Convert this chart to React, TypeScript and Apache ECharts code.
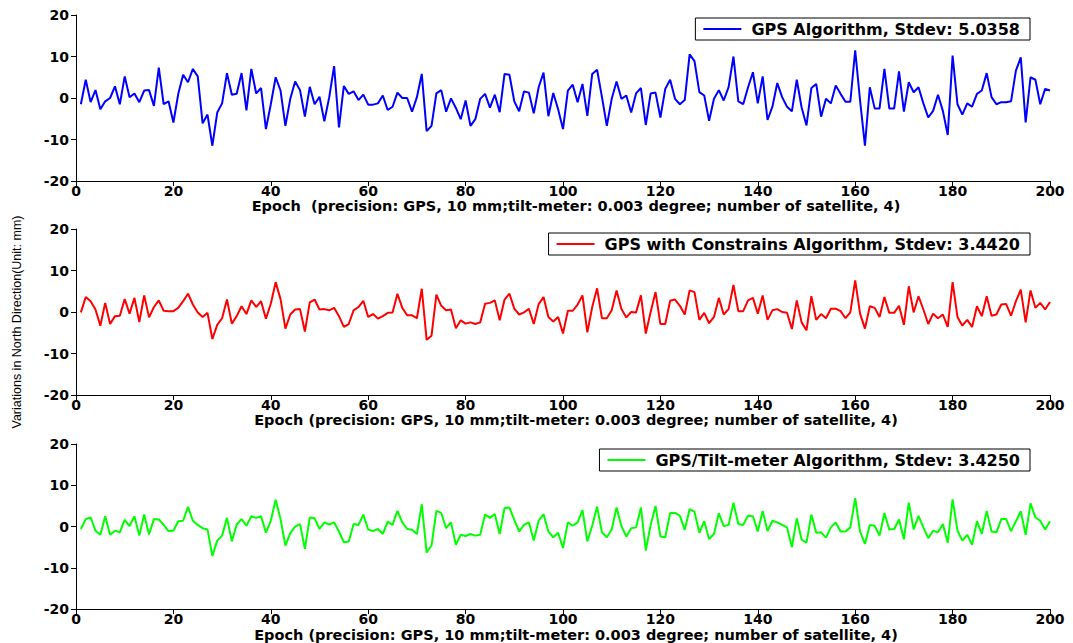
import React, { useEffect, useRef } from "react";
import * as echarts from "echarts";

const gpsValues = [
  -1.5, 4.4, -1, 1.9, -2.7, -0.8, 0, 2.8, -1.5, 5.2,
  0.2, 1.1, -1, 1.8, 1.9, -1.9, 7.3, -1.5, -0.8, -5.9,
  1, 5.6, 3.8, 7, 5.2, -6.1, -4, -11.5, -3.5, -1.3,
  6, 0.8, 1, 6, -3, 7, 1.1, 2.4, -7.5, -1.5,
  5, 1.8, -6.7, -0.2, 4, 1.9, -4.5, 2.7, -1.5, 0.3,
  -5.6, 0.2, 7.7, -7.1, 2.9, 1, 1.6, -0.5, 0.8, -1.6,
  -1.6, -1.3, 0.6, -2.9, -2.1, 1.3, 0, 0, -3.3, 0.2,
  5.8, -8, -6.7, 1.1, 1.9, -3.3, -0.1, -2.4, -5.1, -0.6,
  -6.7, -5.1, -0.2, 1, -2.3, 0.8, -3.4, 5.8, 5.6, -0.8,
  -3.2, 1.6, 1.3, -3.7, 2.6, 6.1, -4.4, 1.2, -2.7, -7.5,
  1.8, 3.2, -1, 3.4, -4.3, 5.8, 6.8, 0.2, -6.7, -0.2,
  4, -0.2, 0.6, -3.5, 1.1, 2.4, -6.5, 1.1, 1.3, -4.7,
  2.2, 4.4, -0.2, -1.5, -0.5, 10.5, 8.9, 1.4, 0.6, -5.5,
  -0.2, 1.9, -0.6, 2.6, 10, -0.8, -1.5, 2.6, 6.2, -1.3,
  5.2, -5.3, -2.1, 3.6, 0.2, -2.1, -3.2, 4.4, -2.3, -6.6,
  2.4, 3.4, -4.5, -0.2, -1.3, 3, 1, -0.9, -0.9, 11.5,
  -0.6, -11.5, 2.6, -2.5, -2.5, 7, -2.5, -2.5, 6.4, -3.3,
  3.8, 1.4, 2.6, -1.3, -4.7, -3.1, 0.8, -3.1, -8.9, 10.2,
  -1.5, -4, -1.3, -2.1, 1, 1.8, 6, 0.2, -1.5, -1,
  -1, -0.8, 6.6, 9.8, -5.9, 5, 4.4, -1.5, 2.2, 1.8,
];

const constrainedValues = [
  -0.1, 3.6, 2.6, 0.6, -3.3, 2.2, -2.9, -1, -0.9, 3.1,
  -0.4, 3.4, -2.4, 4, -1.3, 1.2, 2.8, 0.3, 0.2, 0.2,
  1, 2.6, 4.4, 1.8, -0.1, -1.2, -0.2, -6.5, -3.1, -1.5,
  3, -2.8, -1, 1.4, -0.5, 2.8, 1.2, 2.6, -1.6, 2,
  7.2, 3.1, -4, -0.6, 0.6, 0.7, -4.7, 2.3, 3, 0.6,
  0.7, 0.4, 1, -1, -3.6, -2.9, 0.4, 1.2, 2.7, -1.2,
  -0.5, -1.6, -1, -0.2, -0.1, 4.4, 1, -0.8, -0.8, -1.5,
  5.6, -6.7, -5.7, 4.2, 1.5, 0.4, 0.6, -3.9, -2, -2.8,
  -2.5, -2.9, -2.5, 2, 2.2, 2.8, -2, 3, 4.4, 0.8,
  -0.6, -0.1, 0.8, -2.9, 1.9, 3.6, -1.2, -2.3, -1.2, -5.2,
  0.3, 0.3, 1.8, 4, -4.9, 1.2, 5.7, -1.5, -1.5, 0.4,
  5.2, 0.7, -1.3, 0, -0.1, 4, -5.2, 0, 4.8, -2.9,
  -2.9, 2.7, 3, 1.5, -0.6, 5.2, 4.8, -1.9, -0.2, -2.7,
  -1.2, 3.4, -0.6, 0.7, 6.5, 0.2, 0.2, 2.8, 3.4, -0.4,
  4, -1.9, 0.4, 0.7, 0, -0.2, -4.1, 2.8, -2.5, -4.4,
  3.8, -1.9, -0.5, -1.5, 0.8, 0.8, 0.2, -1.5, -0.1, 7.6,
  -0.4, -4, 1.4, 1, -1.2, 3.6, -0.2, -0.2, 1.5, -3.1,
  6.2, -0.1, 3.8, 0.6, -2.9, -0.4, -1.5, -0.6, -3.6, 7.2,
  -1.2, -3.3, -1.9, -3.6, 1.4, -1, 3.8, -0.9, -0.6, 1.8,
  1.9, -0.9, 2.6, 5.4, -2.5, 5.2, 1, 2.2, 0.6, 2.4,
];

const tiltValues = [
  -0.6, 1.8, 2.2, -1, -2, 2.5, -2, -1, -1.4, 1.6,
  0.1, 2.5, -2.2, 2.9, -1.9, 1.8, 1.7, 0.4, -1.1, -1,
  1.3, 1.4, 4.8, 1.4, 0.4, -0.4, -0.7, -7.1, -3.4, -2.2,
  2.1, -3.6, 0.5, 1.8, 0.2, 2.5, 2.1, 2.5, -1.5, 1.4,
  6.5, 1.8, -4.6, -1.6, 0, 0.6, -5.4, 2.2, 2, -0.6,
  1, 0.5, 1, -1.2, -3.8, -3.6, 0.6, 0.4, 2.9, -0.7,
  -1.1, -0.6, -1.8, 1.2, 0.4, 3.8, 1, -0.6, -0.8, -1.8,
  5.4, -6.3, -4.6, 3.8, 3.3, -0.4, 1, -4.4, -2, -2.3,
  -1.8, -2.2, -2, 2.9, 2.1, 3, -1.8, 4.5, 4.6, 1.6,
  -1.2, 0.4, 1, -3.4, 1.4, 3, -1.2, -2.6, -1.5, -5.2,
  1, 0.2, 1, 4, -3.6, 0.2, 4.8, -1.4, -2.6, -0.7,
  4.6, 0.1, -2.4, -0.4, -0.2, 4.6, -5.8, 0.4, 5, -2.4,
  -2.6, 3.3, 3.3, 2.6, -0.8, 4.2, 3.6, -1.5, 1.3, -3,
  -1.8, 3.2, 0.1, 0.4, 5.8, 0.6, 0.4, 2.6, 2.5, -1.2,
  3.8, -1.1, 1.4, 1, 0.4, -0.2, -5, 2, -3.2, -3.9,
  2.9, -1.5, -1.4, -2.7, -0.2, 1, -1.2, -1.2, -0.2, 6.9,
  -1.2, -4.2, 0.4, 0.2, -2.2, 3.3, -0.7, -0.6, 1.7, -3.1,
  5.8, -0.7, 2.6, -0.2, -2.8, -1, -1.4, 0.6, -3.9, 6.6,
  -1, -3.4, -2, -4.4, 1.3, -1.8, 3.8, -1.2, -1.4, 1.8,
  1.8, -1.1, 1.3, 3.7, -2, 5.6, 2.2, 1.4, -0.7, 1.3,
];

const seriesNames = [
  "GPS Algorithm, Stdev: 5.0358",
  "GPS with Constrains Algorithm, Stdev: 3.4420",
  "GPS/Tilt-meter Algorithm, Stdev: 3.4250",
];
const seriesColors = ["#0000ff", "#ff0000", "#00ff00"];
const xAxisTitles = [
  "Epoch  (precision: GPS, 10 mm;tilt-meter: 0.003 degree; number of satellite, 4)",
  "Epoch (precision: GPS, 10 mm;tilt-meter: 0.003 degree; number of satellite, 4)",
  "Epoch (precision: GPS, 10 mm;tilt-meter: 0.003 degree; number of satellite, 4)",
];
const yAxisTitle = "Variations in North Direction(Unit: mm)";

const allValues = [gpsValues, constrainedValues, tiltValues];

const gridTops = [15, 229, 444];
const gridHeights = [166, 166, 167];
const legendTops = [18, 233, 449];

export default function App() {
  const ref = useRef<HTMLDivElement>(null);

  useEffect(() => {
    if (!ref.current) return;
    const chart = echarts.init(ref.current, null, { renderer: "svg" });
    const font = "DejaVu Sans";
    const option = {
      animation: false,
      textStyle: { fontFamily: font },
      grid: gridTops.map((t, i) => ({
        left: 76,
        top: t,
        width: 974,
        height: gridHeights[i],
        containLabel: false,
      })),
      legend: seriesNames.map((n, i) => ({
        data: [n],
        top: legendTops[i],
        right: 43,
        orient: "horizontal",
        icon: "rect",
        itemWidth: 38,
        itemHeight: 2,
        padding: [3, 10, 3, 8],
        borderColor: "#000",
        borderWidth: 1,
        backgroundColor: "#fff",
        borderRadius: 0,
        textStyle: {
          fontFamily: font,
          fontWeight: "bold",
          fontSize: 16,
          color: "#000",
          padding: [0, 0, 0, 5],
        },
      })),
      graphic: [
        {
          type: "text",
          x: 17,
          y: 322,
          rotation: Math.PI / 2,
          style: {
            text: yAxisTitle,
            align: "center",
            verticalAlign: "middle",
            fontFamily: "Liberation Sans",
            fontSize: 12.5,
            fill: "#000",
          },
        },
      ],
      xAxis: gridTops.map((_, i) => ({
        gridIndex: i,
        type: "value",
        min: 0,
        max: 200,
        interval: 20,
        axisLine: { show: true, onZero: false, lineStyle: { color: "#000", width: 1 } },
        axisTick: { show: true, length: 5, lineStyle: { color: "#000" } },
        axisLabel: {
          color: "#000",
          fontWeight: "bold",
          fontSize: 14,
          fontFamily: font,
          margin: 3,
        },
        splitLine: { show: false },
        name: xAxisTitles[i],
        nameLocation: "middle",
        nameGap: 16,
        nameTextStyle: {
          color: "#000",
          fontWeight: "bold",
          fontSize: 14.5,
          fontFamily: font,
          padding: [0, 0, 0, 26],
        },
      })),
      yAxis: gridTops.map((_, i) => ({
        gridIndex: i,
        type: "value",
        min: -20,
        max: 20,
        interval: 10,
        axisLine: { show: true, onZero: false, lineStyle: { color: "#000", width: 1 } },
        axisTick: { show: true, length: 5, lineStyle: { color: "#000" } },
        axisLabel: {
          color: "#000",
          fontWeight: "bold",
          fontSize: 14,
          fontFamily: font,
          margin: 7,
        },
        splitLine: { show: false },
      })),
      series: allValues.map((vals, i) => ({
        name: seriesNames[i],
        type: "line",
        xAxisIndex: i,
        yAxisIndex: i,
        showSymbol: false,
        symbol: "none",
        color: seriesColors[i],
        lineStyle: { color: seriesColors[i], width: 2 },
        data: vals.map((v, k) => [k + 1, v]),
      })),
    };
    chart.setOption(option as any);
    return () => chart.dispose();
  }, []);

  return (
    <div
      ref={ref}
      style={{ position: "fixed", left: 0, top: 0, width: 1073, height: 643, background: "#fff" }}
    />
  );
}
